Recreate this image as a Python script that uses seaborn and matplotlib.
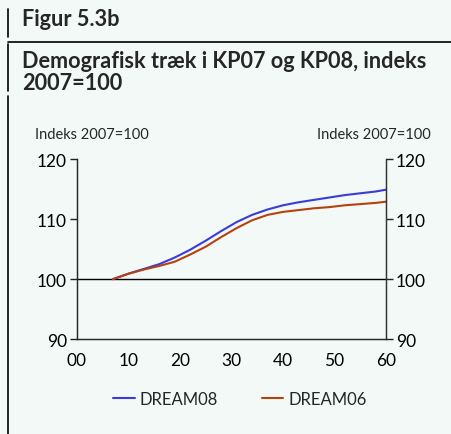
import pandas as pd
import matplotlib.pyplot as plt
import seaborn as sns
from matplotlib.lines import Line2D

# years after 2000
years = [7, 10, 13, 16, 19, 22, 25, 28, 31, 34, 37, 40, 43, 46, 49, 52, 55, 58, 60]
dream08 = [100.0, 100.9, 101.7, 102.5, 103.6, 104.9, 106.4, 108.0, 109.5, 110.7,
           111.6, 112.3, 112.8, 113.2, 113.6, 114.0, 114.3, 114.6, 114.9]
dream06 = [100.0, 100.9, 101.6, 102.2, 102.9, 104.1, 105.4, 107.0, 108.5, 109.8,
           110.7, 111.2, 111.5, 111.8, 112.0, 112.3, 112.5, 112.7, 112.9]
xticks = [0, 10, 20, 30, 40, 50, 60]
xlabels = ["00", "10", "20", "30", "40", "50", "60"]
yticks = [90, 100, 110, 120]

bg = "#f2f9f7"
colors = {"DREAM08": "#3b3bdc", "DREAM06": "#b4420e"}

df = pd.DataFrame({"year": years * 2,
                   "value": dream08 + dream06,
                   "serie": ["DREAM08"] * len(years) + ["DREAM06"] * len(years)})

sns.set_style("white")
plt.rcParams["font.family"] = ["Lato", "DejaVu Sans"]

fig = plt.figure(figsize=(4.52, 4.35), dpi=100, facecolor=bg)
ax = fig.add_axes([0.170, 0.218, 0.684, 0.414])
ax.set_facecolor(bg)

sns.lineplot(data=df, x="year", y="value", hue="serie", palette=colors,
             linewidth=1.5, ax=ax, legend=False)
ax.axhline(100, color="black", lw=1.0, zorder=1)

ax.set_xlim(0, 60)
ax.set_ylim(90, 120)
ax.set_xticks(xticks)
ax.set_xticklabels(xlabels)
ax.set_yticks(yticks)
ax.set_xlabel("")
ax.set_ylabel("")
ax.tick_params(axis="x", direction="in", length=5, width=1, colors="#222222",
               labelsize=12.5, pad=9, labelcolor="black")
ax.tick_params(axis="y", direction="out", length=5, width=1, colors="#222222",
               labelsize=12.5, pad=2, labelcolor="black")
for s in ["left", "right", "bottom"]:
    ax.spines[s].set_color("#333333")
    ax.spines[s].set_linewidth(1.0)
ax.spines["top"].set_visible(False)

ax2 = ax.twinx()
ax2.set_ylim(90, 120)
ax2.set_yticks(yticks)
ax2.tick_params(axis="y", direction="out", length=5, width=1, colors="#222222",
                labelsize=12.5, pad=2, labelcolor="black")
ax2.spines["top"].set_visible(False)
ax2.spines["right"].set_color("#333333")

# titles
fig.text(22 / 452, 1 - 20 / 435, "Figur 5.3b", fontsize=15.6, fontweight="bold",
         va="center", ha="left")
fig.text(22 / 452, 1 - 61 / 435, "Demografisk træk i KP07 og KP08, indeks",
         fontsize=15.6, fontweight="bold", va="center", ha="left")
fig.text(22 / 452, 1 - 84 / 435, "2007=100",
         fontsize=15.6, fontweight="bold", va="center", ha="left")
fig.text(35 / 452, 1 - 135 / 435, "Indeks 2007=100", fontsize=10.5, va="center", ha="left")
fig.text(431 / 452, 1 - 135 / 435, "Indeks 2007=100", fontsize=10.5, va="center", ha="right")

# frame lines
fig.add_artist(Line2D([8 / 452, 1], [1 - 43 / 435] * 2, color="black", lw=1.2))
for y0, y1 in [(10, 38), (45, 92), (97, 435)]:
    fig.add_artist(Line2D([8 / 452] * 2, [1 - y0 / 435, 1 - y1 / 435], color="black", lw=1.2))

# legend
handles = [Line2D([], [], color=colors[k], lw=1.5) for k in ["DREAM08", "DREAM06"]]
fig.legend(handles, ["DREAM08", "DREAM06"], loc="center", ncol=2,
           bbox_to_anchor=(240 / 452, 1 - 400 / 435), frameon=False,
           fontsize=12, handlelength=1.3, handletextpad=0.3, columnspacing=2.6)

fig.savefig("out.png", dpi=100, facecolor=bg)
